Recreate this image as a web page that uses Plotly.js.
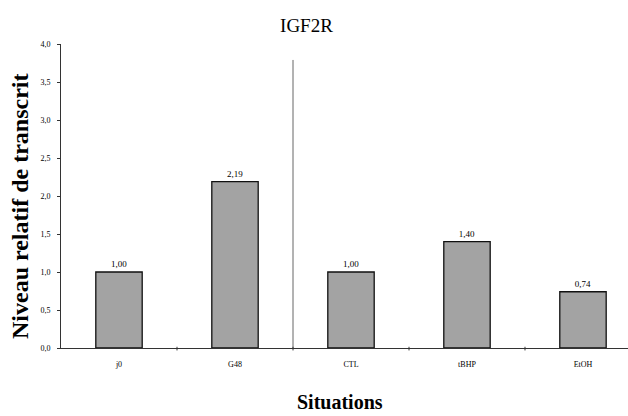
<!DOCTYPE html>
<html>
<head>
<meta charset="utf-8">
<script src="https://cdn.plot.ly/plotly-3.0.1.min.js"></script>
<style>html,body{margin:0;padding:0;background:#fff;}#chart{width:628px;height:416px;}</style>
</head>
<body>
<div id="chart"></div>
<script>
const categories = ["j0", "G48", "CTL", "tBHP", "EtOH"];
const values = [1.00, 2.19, 1.00, 1.40, 0.74];
const valueLabels = ["1,00", "2,19", "1,00", "1,40", "0,74"];
const yTickValues = [0, 0.5, 1, 1.5, 2, 2.5, 3, 3.5, 4];
const groupSizes = [2, 3];
const chartTitle = "IGF2R";
const xTitle = "Situations";
const yTitle = "Niveau relatif de transcrit";

const serif = "Liberation Serif, Times New Roman, serif";
const boundary = groupSizes[0] - 0.5;

const trace = {
  type: "bar",
  x: categories.map((c, i) => i),
  y: values,
  width: 0.4,
  text: valueLabels,
  textposition: "outside",
  cliponaxis: false,
  textfont: {family: serif, size: 9, color: "#000"},
  marker: {
    color: "#a5a5a5",
    line: {color: "#111", width: 1.3},
    pattern: {shape: ".", fgcolor: "#959595", bgcolor: "#acacac", size: 2, solidity: 0.4, fillmode: "replace"}
  },
  hoverinfo: "none"
};

const layout = {
  width: 628, height: 416,
  margin: {l: 61, r: 0, t: 44, b: 68},
  paper_bgcolor: "#fff", plot_bgcolor: "#fff",
  showlegend: false,
  separators: ",.",
  title: {text: chartTitle, font: {family: serif, size: 19, color: "#000"}, x: 0.488, xanchor: "center", y: 0.94, yanchor: "middle"},
  xaxis: {
    range: [-0.5, 4.388],
    tickmode: "array",
    tickvals: categories.map((c, i) => i),
    ticktext: categories,
    showgrid: false, zeroline: false,
    showline: true, linecolor: "#333", linewidth: 1,
    ticks: "outside", ticklen: 8, tickcolor: "rgba(0,0,0,0)",
    tickfont: {family: serif, size: 8, color: "#000"}
  },
  yaxis: {
    range: [0, 4],
    tickmode: "array",
    tickvals: yTickValues,
    tickformat: ".1f",
    showgrid: false, zeroline: false,
    showline: true, linecolor: "#333", linewidth: 1,
    ticks: "outside", ticklen: 3, tickcolor: "#333",
    ticklabelstandoff: 5,
    tickfont: {family: serif, size: 8, color: "#000"}
  },
  annotations: [
    {text: xTitle, xref: "paper", yref: "paper", x: (340 - 61) / 567, y: -(402 - 348) / 304, xanchor: "center", yanchor: "middle", showarrow: false,
     font: {family: serif, size: 20, color: "#000", weight: "bold"}},
    {text: yTitle, xref: "paper", yref: "paper", x: (20 - 61) / 567, y: (348 - 206) / 304, xanchor: "center", yanchor: "middle", textangle: -90, showarrow: false,
     font: {family: serif, size: 24, color: "#000", weight: "bold"}}
  ],
  shapes: [
    {type: "line", xref: "x", yref: "y", x0: boundary, x1: boundary, y0: 0, y1: 3.79, line: {color: "#666", width: 1}}
  ].concat([0.5, 1.5, 2.5, 3.5].map(b => ({type: "line", xref: "x", yref: "paper", x0: b, x1: b, y0: -0.008, y1: 0.004, line: {color: "#333", width: 1}})))
};

Plotly.newPlot("chart", [trace], layout, {staticPlot: true, displayModeBar: false});
</script>
</body>
</html>
